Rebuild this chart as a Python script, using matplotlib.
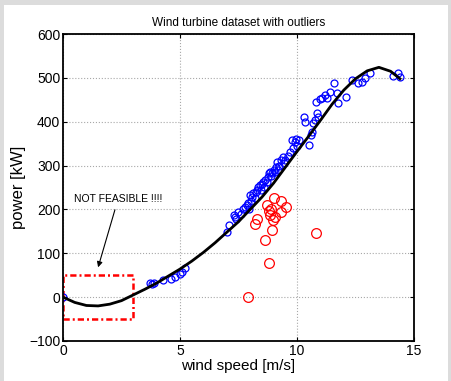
import matplotlib
matplotlib.use("Agg")
import matplotlib.pyplot as plt
from matplotlib.patches import Rectangle

plt.rcParams['font.family'] = ['Liberation Sans Narrow', 'Liberation Sans', 'DejaVu Sans']

# fitted power curve
curve_x = [0, 0.5, 1, 1.5, 2, 2.5, 3, 3.5, 4, 4.5, 5, 5.5, 6, 6.5, 7, 7.5, 8, 8.5,
           9, 9.5, 10, 10.5, 11, 11.5, 12, 12.5, 13, 13.5, 14, 14.4]
curve_y = [0, -12, -19, -20, -16, -8, 5, 18, 32, 48, 64, 82, 102, 124, 148, 172, 200, 228,
           260, 296, 332, 367, 403, 440, 472, 498, 516, 524, 515, 498]

# normal measurements (blue)
good_x = [0, 3.72, 3.8, 3.9, 4.27, 4.6, 4.8, 5.0, 5.1, 5.2,
          7.0, 7.1, 7.35, 7.4, 7.3, 7.5, 7.6, 7.7, 7.78, 7.85, 7.9, 7.95, 8.0, 8.05,
          8.08, 8.13, 8.2, 8.25, 8.3, 8.35, 8.4, 8.45, 8.5, 8.55, 8.6, 8.65, 8.7, 8.76,
          8.8, 8.85, 8.9, 8.93, 9.0, 9.06, 9.1, 9.15, 9.2, 9.25, 9.3, 9.4, 9.45, 9.5,
          9.6, 9.7, 9.8, 9.85, 9.9, 9.95, 10.0, 10.1, 10.3, 10.34, 10.5, 10.6, 10.64,
          10.7, 10.77, 10.8, 10.85, 10.9, 11.0, 11.07, 11.2, 11.3, 11.4, 11.6, 11.7,
          11.75, 12.1, 12.35, 12.6, 12.78, 12.9, 13.1, 14.1, 14.3, 14.4]
good_y = [0, 32, 30, 33, 40, 42, 46, 52, 57, 66,
          148, 164, 182, 178, 188, 195, 190, 200, 205, 210, 214, 200, 232, 220,
          228, 237, 225, 240, 244, 250, 255, 245, 258, 262, 250, 268, 262, 274,
          282, 285, 276, 283, 290, 285, 296, 308, 290, 300, 312, 319, 305, 312,
          322, 330, 358, 340, 353, 360, 345, 358, 410, 400, 347, 370, 376,
          397, 403, 445, 420, 410, 451, 453, 460, 453, 467, 488, 465,
          442, 456, 495, 488, 490, 500, 510, 505, 510, 502]

# outliers (red)
bad_x = [7.9, 8.2, 8.3, 8.63, 8.7, 8.8, 8.85, 8.9, 8.93, 8.97, 9.0, 9.06, 9.3, 9.3, 9.53, 8.8, 10.8]
bad_y = [0, 166, 178, 130, 210, 196, 187, 200, 153, 175, 226, 182, 219, 194, 205, 77, 146]

fig = plt.figure(figsize=(4.52, 3.81), dpi=100)
fig.patch.set_facecolor('#dcdcdc')
fig.add_artist(Rectangle((4/452, 0), 444/452, 376/381, transform=fig.transFigure,
                         facecolor='white', edgecolor='none', zorder=-1))
ax = fig.add_axes([63/452, 1-341/381, 351/452, 307/381])

ax.plot(good_x, good_y, 'o', mfc='none', mec='blue', ms=5, mew=0.9)
ax.plot(bad_x, bad_y, 'o', mfc='none', mec='red', ms=7, mew=0.9)
ax.plot(curve_x, curve_y, 'k-', lw=2)

# infeasible region
ax.add_patch(Rectangle((0, -50), 3, 100, fill=False, edgecolor='red',
                       ls=(0, (2.5, 1.2, 0.8, 1.2)), lw=1.8))
ax.annotate('NOT FEASIBLE !!!!', xy=(1.5, 68), xytext=(2.35, 223), ha='center', va='center',
            fontsize=7.5, arrowprops=dict(arrowstyle='-|>', color='black', lw=0.8,
                                          mutation_scale=8, shrinkA=2, shrinkB=0))

ax.set_xlim(0, 15)
ax.set_ylim(-100, 600)
ax.set_xticks([0, 5, 10, 15])
ax.set_yticks(range(-100, 601, 100))
ax.grid(True, ls=':', color='#a8a8a8', lw=0.8)
ax.tick_params(direction='in', length=3, top=True, right=True, labelsize=10, pad=2)
for s in ax.spines.values():
    s.set_linewidth(1.3)

ax.set_title('Wind turbine dataset with outliers', fontsize=8.5, pad=6)
ax.set_xlabel('wind speed [m/s]', fontsize=11, labelpad=1)
ax.set_ylabel('power [kW]', fontsize=12, family=['Liberation Sans', 'DejaVu Sans'], labelpad=2)

fig.savefig('out.png', dpi=100, facecolor=fig.get_facecolor())
